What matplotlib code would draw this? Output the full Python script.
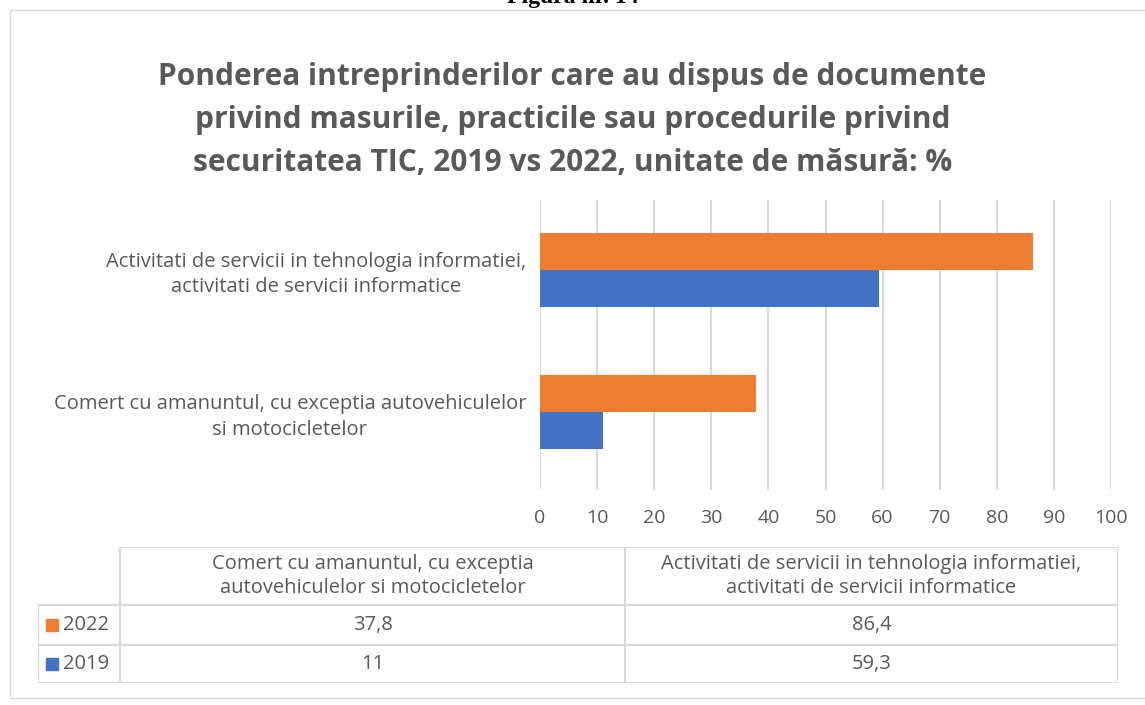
import matplotlib.pyplot as plt
from matplotlib.patches import Rectangle

# data
categories = ['Comert cu amanuntul, cu exceptia autovehiculelor\nsi motocicletelor',
              'Activitati de servicii in tehnologia informatiei,\nactivitati de servicii informatice']
table_headers = ['Comert cu amanuntul, cu exceptia\nautovehiculelor si motocicletelor',
                 'Activitati de servicii in tehnologia informatiei,\nactivitati de servicii informatice']
years = ['2022', '2019']
values_2022 = [37.8, 86.4]
values_2019 = [11, 59.3]
ticks = [0, 10, 20, 30, 40, 50, 60, 70, 80, 90, 100]

c2022 = '#ED7D31'
c2019 = '#4472C4'
txt = '#595959'
grid = '#D9D9D9'

plt.rcParams['font.family'] = ['Open Sans', 'DejaVu Sans']

fig = plt.figure(figsize=(11.45, 7.05), dpi=100)
W, H = 1145, 705

def fx(px):
    return px / W

def fy(py):
    return 1 - py / H

# outer chart border
fig.add_artist(Rectangle((fx(10), fy(698)), fx(1150) - fx(10), fy(10) - fy(698),
                         transform=fig.transFigure, fill=False, edgecolor='#D9D9D9', lw=1))
fig.text(0.5, fy(-2), 'Figura nr. 14', ha='center', va='center', fontsize=17,
         fontweight='bold', family='Liberation Serif', color='black')

fig.text(0.5, fy(120), 'Ponderea intreprinderilor care au dispus de documente\n'
         'privind masurile, practicile sau procedurile privind\n'
         'securitatea TIC, 2019 vs 2022, unitate de măsură: %',
         ha='center', va='center', fontsize=21.5, fontweight='bold', color=txt,
         linespacing=1.55)

# bar chart
ax = fig.add_axes([fx(540), fy(490), fx(1111) - fx(540), fy(200) - fy(490)])
y = [0, 1]
h = 0.26
ax.barh([i + h / 2 for i in y], values_2022, height=h, color=c2022, label='2022')
ax.barh([i - h / 2 for i in y], values_2019, height=h, color=c2019, label='2019')
ax.set_xlim(0, 100)
ax.set_ylim(-0.55, 1.49)
ax.set_xticks(ticks)
ax.set_xticklabels([str(t) for t in ticks], fontsize=14, color=txt)
ax.set_yticks(y)
ax.set_yticklabels(categories, fontsize=14.5, color=txt, ha='right',
                   multialignment='center', linespacing=1.35)
ax.tick_params(axis='y', length=0, pad=10)
ax.tick_params(axis='x', length=0, pad=14)
ax.xaxis.grid(True, color=grid, lw=1.5)
ax.set_axisbelow(True)
for s in ax.spines.values():
    s.set_visible(False)

# data table
tax = fig.add_axes([fx(38), fy(683), fx(1118) - fx(38), fy(547) - fy(683)])
tax.set_xlim(38, 1118)
tax.set_ylim(683, 547)
tax.axis('off')
col_edges = [38, 120, 625, 1118]
row_edges = [547, 605, 645, 683]
lc = '#D9D9D9'
tax.plot([120, 1118], [547, 547], color=lc, lw=1.5)
for r in row_edges[1:]:
    tax.plot([38, 1118], [r, r], color=lc, lw=1.5)
tax.plot([38, 38], [605, 683], color=lc, lw=1.5)
for c in col_edges[1:]:
    tax.plot([c, c], [547, 683], color=lc, lw=1.5)

for j, head in enumerate(table_headers):
    xc = (col_edges[j + 1] + col_edges[j + 2]) / 2
    tax.text(xc, 576, head, ha='center', va='center', fontsize=14.5, color=txt, linespacing=1.3)

rows = [values_2022, values_2019]
colors = [c2022, c2019]
for i, (yr, vals, col) in enumerate(zip(years, rows, colors)):
    yc = (row_edges[i + 1] + row_edges[i + 2]) / 2
    tax.add_patch(Rectangle((46, yc - 6), 12, 12, color=col))
    tax.text(63, yc, yr, ha='left', va='center', fontsize=14.5, color=txt)
    for j, v in enumerate(vals):
        xc = (col_edges[j + 1] + col_edges[j + 2]) / 2
        tax.text(xc, yc, ('%g' % v).replace('.', ','), ha='center', va='center',
                 fontsize=14.5, color=txt)

fig.savefig('out.png', dpi=100)
